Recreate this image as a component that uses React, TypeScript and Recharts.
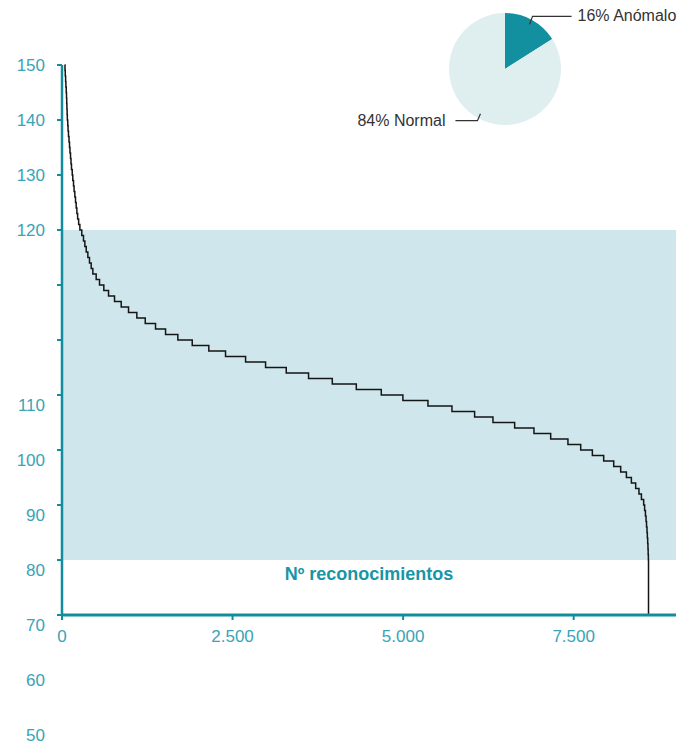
import React from "react";
import {
  LineChart,
  Line,
  XAxis,
  YAxis,
  ReferenceArea,
  PieChart,
  Pie,
  Cell,
} from "recharts";

// curva ordenada: nº de reconocimientos (x) y valor del nivel (y)
const reconocimientos = [
  37, 44, 48, 53, 57, 62, 66, 69, 72, 75, 78, 84, 89, 95, 103, 110, 117, 125,
  132, 139, 150, 158, 169, 177, 188, 198, 208, 218, 229, 244, 262, 290, 315,
  335, 355, 379, 403, 428, 452, 501, 550, 613, 682, 770, 868, 975, 1097, 1220,
  1371, 1518, 1698, 1909, 2152, 2397, 2691, 2984, 3287, 3614, 3962, 4314, 4680,
  4997, 5364, 5716, 6048, 6317, 6635, 6918, 7163, 7416, 7603, 7774, 7940, 8087,
  8189, 8273, 8346, 8409, 8457, 8493, 8526, 8540, 8552, 8561, 8568, 8575, 8580,
  8585, 8589, 8592, 8595, 8597,
];
const valores = [
  150, 149, 148, 147, 146, 145, 144, 143, 142, 141, 140, 139, 138, 137, 136,
  135, 134, 133, 132, 131, 130, 129, 128, 127, 126, 125, 124, 123, 122, 121,
  120, 119, 118, 117, 116, 115, 114, 113, 112, 111, 110, 109, 108, 107, 106,
  105, 104, 103, 102, 101, 100, 99, 98, 97, 96, 95, 94, 93, 92, 91, 90, 89, 88,
  87, 86, 85, 84, 83, 82, 81, 80, 79, 78, 77, 76, 75, 74, 73, 72, 71, 70, 69,
  68, 67, 66, 65, 64, 63, 62, 61, 60, 50,
];

const xTicks = [0, 2500, 5000, 7500];
const xTickLabels = ["0", "2.500", "5.000", "7.500"];
const yTicks = [50, 60, 70, 80, 90, 100, 110, 120, 130, 140, 150];
const yTickLabels = ["70", "80", "90", "100", "110", "", "", "120", "130", "140", "150"];
const yExtraLabels = ["60", "50"];
const banda = [60, 120];

const pieNames = ["Anómalo", "Normal"];
const pieValues = [16, 84];

const TEAL = "#118d9e";
const LABEL = "#3aa3b6";
const BAND = "#cfe7ec";
const PIE_COLORS = ["#13909f", "#dfeff0"];

const curveData = reconocimientos.map((x, i) => ({ x, valor: valores[i] }));
const pieData = pieNames.map((name, i) => ({ name, value: pieValues[i] }));

const YTick = (props: any) => {
  const { x, y, payload } = props;
  const i = yTicks.indexOf(payload.value);
  const shift = payload.value <= 90 ? 10 : 0;
  return (
    <g>
      <text x={x} y={y + shift} dy={6} textAnchor="end" fill={LABEL} fontSize={17}>
        {yTickLabels[i]}
      </text>
      {i === 0 &&
        yExtraLabels.map((l, k) => (
          <text
            key={l}
            x={x}
            y={y + shift + 55 * (k + 1)}
            dy={6}
            textAnchor="end"
            fill={LABEL}
            fontSize={17}>
            {l}
          </text>
        ))}
    </g>
  );
};

const XTick = (props: any) => {
  const { x, y, payload } = props;
  const i = xTicks.indexOf(payload.value);
  return (
    <text x={x} y={y} dy={20} textAnchor="middle" fill={LABEL} fontSize={17}>
      {xTickLabels[i]}
    </text>
  );
};

const RAD = Math.PI / 180;

const PieLabel = (props: any) => {
  const { cx, cy, midAngle, outerRadius, name, value } = props;
  const cos = Math.cos(-midAngle * RAD);
  const sin = Math.sin(-midAngle * RAD);
  const side = cos >= 0 ? 1 : -1;
  const sx = cx + outerRadius * 0.91 * cos;
  const sy = cy + outerRadius * 0.91 * sin;
  const ex = sx + side * 3;
  const ey = sy + (sin < 0 ? -8 : 7);
  const lx = ex + side * (side > 0 ? 39 : 22);
  return (
    <g>
      <polyline
        points={`${sx},${sy} ${ex},${ey} ${lx},${ey}`}
        fill="none"
        stroke="#333"
        strokeWidth={1.2}
      />
      <text
        x={lx + side * (side > 0 ? 6 : 10)}
        y={ey + 5}
        textAnchor={side > 0 ? "start" : "end"}
        fill="#333"
        fontSize={16}>
        {`${value}% ${name}`}
      </text>
    </g>
  );
};

const App: React.FC = () => {
  return (
    <div
      style={{
        position: "absolute",
        left: 0,
        top: 0,
        width: 678,
        height: 745,
        background: "#fff",
        fontFamily: "'Liberation Sans', Arial, sans-serif",
      }}>
      <LineChart
        width={678}
        height={745}
        data={curveData}
        margin={{ top: 65, right: 2, left: 0, bottom: 0 }}>
        <ReferenceArea
          y1={banda[0]}
          y2={banda[1]}
          fill={BAND}
          fillOpacity={1}
          stroke="none"
        />
        <XAxis
          type="number"
          dataKey="x"
          domain={[0, 9000]}
          ticks={xTicks}
          height={130}
          tick={<XTick />}
          tickSize={5}
          axisLine={{ stroke: TEAL, strokeWidth: 3 }}
          tickLine={{ stroke: TEAL, strokeWidth: 2 }}
          label={{
            value: "Nº reconocimientos",
            position: "top",
            offset: 35,
            fill: "#1796a8",
            fontSize: 18,
            fontWeight: "bold",
          }}
        />
        <YAxis
          type="number"
          domain={[50, 150]}
          ticks={yTicks}
          width={62}
          tick={<YTick />}
          tickSize={5}
          tickMargin={12}
          interval={0}
          axisLine={{ stroke: TEAL, strokeWidth: 2.5 }}
          tickLine={{ stroke: TEAL, strokeWidth: 2 }}
        />
        <Line
          type="stepAfter"
          dataKey="valor"
          stroke="#151515"
          strokeWidth={1.5}
          dot={false}
          isAnimationActive={false}
        />
      </LineChart>
      <div style={{ position: "absolute", left: 0, top: 0 }}>
        <PieChart
          width={678}
          height={150}
          margin={{ top: 0, right: 0, bottom: 0, left: 0 }}>
          <Pie
            data={pieData}
            dataKey="value"
            nameKey="name"
            cx={505}
            cy={69}
            outerRadius={56}
            startAngle={90}
            endAngle={-270}
            stroke="none"
            label={PieLabel}
            labelLine={false}
            isAnimationActive={false}>
            {pieData.map((d, i) => (
              <Cell key={d.name} fill={PIE_COLORS[i]} />
            ))}
          </Pie>
        </PieChart>
      </div>
    </div>
  );
};

export default App;
